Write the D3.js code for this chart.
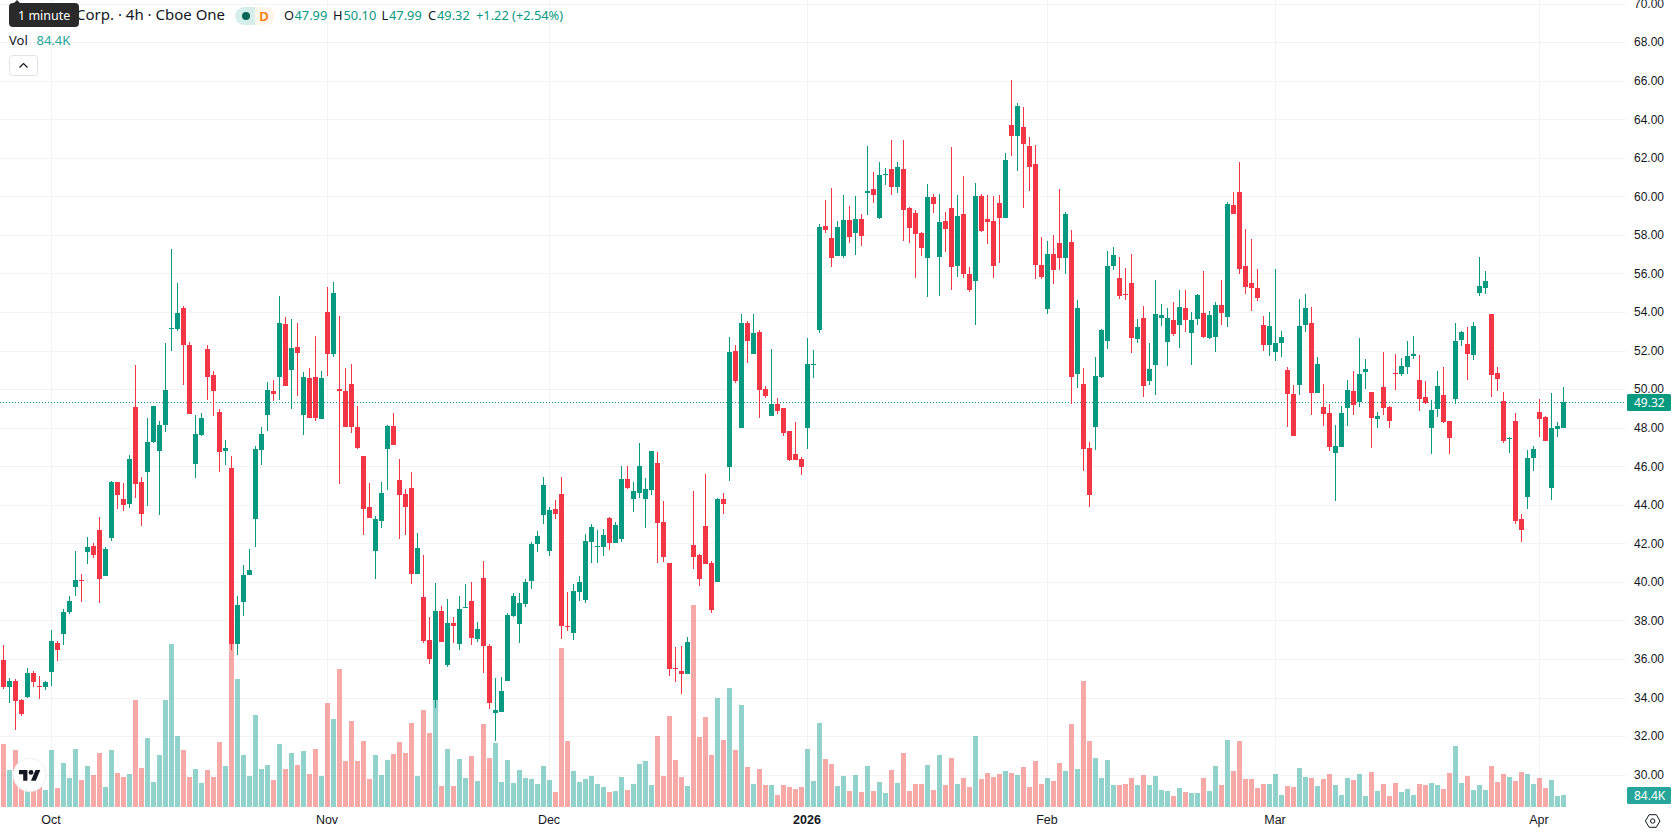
<!DOCTYPE html>
<html>
<head>
<meta charset="utf-8">
<title>Candlestick chart</title>
<script src="https://cdn.jsdelivr.net/npm/d3@7/dist/d3.min.js"></script>
<style>
html,body{margin:0;padding:0;background:#fff;overflow:hidden}
svg{display:block}
text{font-family:"Noto Sans",Roboto,sans-serif;fill:#131722}
</style>
</head>
<body>
<div id="chart"></div>
<script>
// Session series, oldest first
const opens = [35.97,34.52,34.88,33.85,34.05,35.25,34.61,34.52,35.30,36.85,37.32,38.41,39.71,40.12,41.57,41.88,42.71,40.28,42.30,45.20,
44.32,44.05,49.08,45.20,45.71,47.27,46.80,48.15,53.13,53.13,54.22,52.30,46.13,47.63,52.09,50.74,48.82,46.80,45.92,36.75,
38.98,40.33,43.28,46.85,48.67,49.91,50.64,53.39,51.00,52.19,48.67,50.59,50.64,48.46,54.01,51.83,50.02,49.91,50.28,48.05,
46.54,43.90,41.62,43.17,46.91,48.10,45.30,44.57,44.88,40.43,39.22,36.99,33.87,38.49,35.69,37.87,36.78,38.65,39.01,37.04,
40.20,36.67,33.19,33.25,34.86,38.23,37.82,38.85,40.04,41.96,43.47,41.60,43.78,44.56,37.71,37.35,39.47,39.06,42.07,41.81,
41.81,43.31,42.02,42.22,45.33,44.30,44.61,44.30,44.76,46.16,43.10,40.98,35.53,35.38,35.22,41.91,41.39,42.90,40.98,39.99,
44.30,45.95,51.97,47.97,53.42,51.81,52.95,49.99,48.60,49.22,49.01,47.82,46.63,46.37,47.97,51.24,53.05,58.45,57.82,56.89,
56.89,58.76,58.08,58.81,60.16,60.37,58.86,61.09,61.40,60.47,61.40,59.38,59.12,58.08,56.79,59.95,56.84,58.71,59.38,56.37,
59.07,55.96,55.60,60.00,58.81,58.71,59.64,58.86,63.68,63.11,63.58,62.60,61.66,56.43,54.14,57.00,57.57,56.79,57.62,50.77,
50.26,46.94,48.03,50.62,52.48,56.37,55.77,54.94,55.51,52.60,53.69,50.43,51.25,53.69,52.45,53.59,53.33,54.21,52.91,53.64,
53.95,52.65,52.71,54.37,53.74,59.55,60.22,56.39,55.51,55.25,53.33,52.29,51.93,52.40,50.99,49.75,50.22,53.33,53.43,49.80,
49.08,48.77,46.69,47.00,49.03,49.91,49.34,50.89,49.85,48.45,50.11,49.08,50.82,50.78,51.14,51.71,50.47,49.59,47.98,48.97,
49.69,48.34,49.48,52.54,52.34,51.77,54.98,55.24,53.89,50.83,49.38,47.43,48.34,43.26,44.40,46.43,48.81,48.55,44.87,47.93,
47.99];
const highs = [36.70,34.99,34.94,33.90,35.51,35.40,35.14,34.88,37.48,36.91,38.60,39.29,41.62,40.43,42.35,41.99,43.34,41.83,45.25,45.20,
45.15,46.60,51.26,45.45,48.51,49.14,48.36,52.40,57.28,55.51,54.32,52.45,48.67,48.77,52.30,50.95,48.98,47.37,46.54,39.24,
40.90,41.73,47.06,48.05,50.38,50.48,54.84,53.75,53.65,53.44,50.90,51.11,52.77,50.95,55.31,55.57,53.80,51.11,51.31,49.14,
46.54,45.14,43.43,45.20,48.15,48.77,46.39,44.83,45.71,42.55,41.39,38.18,39.94,38.75,39.11,38.18,39.27,39.89,39.99,37.92,
41.08,36.78,35.02,35.07,38.39,39.42,39.42,40.15,42.07,42.64,45.44,43.88,44.24,45.44,39.47,39.89,40.30,42.48,43.00,42.69,
42.74,43.36,43.10,46.01,46.01,45.18,47.20,45.39,46.79,46.73,44.19,40.98,36.62,36.67,37.14,44.71,41.44,45.59,41.08,44.35,
44.61,52.69,52.28,53.88,53.52,53.88,53.05,50.15,52.07,49.53,49.01,47.82,48.28,46.47,52.64,52.02,58.55,59.80,60.42,58.71,
60.05,59.48,60.00,59.07,62.60,61.25,61.77,61.45,62.91,61.77,62.91,59.43,59.28,58.14,60.62,60.11,60.11,59.17,62.56,60.05,
61.04,56.32,60.68,60.11,60.05,60.00,60.05,62.23,66.02,64.82,64.62,63.06,62.65,57.88,57.67,57.98,60.37,59.17,58.24,54.61,
51.09,47.25,51.65,53.11,57.15,57.36,56.85,56.28,57.01,53.64,54.31,52.40,55.66,54.42,54.21,54.52,55.14,55.14,54.00,54.94,
56.13,54.05,54.52,55.66,59.71,60.22,61.78,58.31,57.79,56.23,53.80,54.00,56.23,53.02,51.15,50.22,54.68,54.94,54.26,51.67,
50.27,49.23,48.14,49.13,50.48,50.94,52.65,51.57,49.85,48.82,51.93,49.13,51.83,51.61,52.49,52.75,51.77,50.42,49.43,50.94,
51.14,48.34,53.42,53.01,53.22,53.48,56.85,56.12,53.89,51.14,49.85,47.51,48.76,43.52,46.84,47.05,49.48,48.60,49.80,48.29,
50.10];
const lows = [34.42,33.71,32.29,33.02,33.95,34.52,33.90,34.37,34.62,35.87,36.70,38.31,39.29,38.93,40.95,41.26,38.88,40.28,42.14,43.80,
43.65,43.85,44.37,42.91,43.95,47.22,43.48,47.79,51.99,53.02,50.22,48.72,45.40,47.58,49.45,48.62,45.71,46.08,36.49,36.23,
38.25,40.33,41.83,46.08,47.84,49.40,49.45,50.17,48.98,49.65,47.63,48.51,48.36,48.46,50.69,51.68,45.09,48.05,47.74,46.91,
42.45,43.33,40.17,42.81,44.78,47.11,42.24,42.45,39.91,40.43,36.83,35.74,33.46,36.88,35.59,36.83,36.47,38.65,36.73,36.88,
35.27,33.41,31.73,33.25,34.86,38.18,36.83,38.70,39.63,41.55,43.00,41.34,43.26,37.04,37.45,36.99,39.01,38.90,40.98,40.98,
41.34,41.65,42.02,42.07,44.82,43.62,44.35,42.79,44.50,40.98,41.03,35.12,34.81,34.19,35.22,40.67,39.79,40.93,38.39,39.99,
43.52,45.23,50.31,47.97,51.34,51.81,48.49,49.53,48.60,48.70,47.56,46.26,46.31,45.54,46.88,50.57,52.90,58.08,56.32,56.89,
56.79,57.57,56.94,57.41,59.02,59.64,58.81,60.57,60.05,60.16,57.67,57.57,55.75,56.89,54.77,59.12,54.82,57.10,55.13,55.80,
55.75,55.03,53.31,58.14,57.51,55.75,56.53,58.86,62.08,61.30,59.38,60.26,55.70,55.70,53.88,55.44,56.17,55.96,49.22,50.05,
45.75,43.88,46.84,50.57,52.07,56.17,54.68,54.63,51.88,52.40,49.60,50.22,49.70,53.28,51.20,52.76,52.14,52.97,51.25,53.33,
52.65,52.60,51.93,53.33,53.22,59.08,55.97,54.94,54.05,54.57,51.98,51.72,51.46,51.67,48.04,47.57,49.70,52.97,48.66,49.80,
48.09,46.80,44.20,47.00,48.09,48.66,49.08,50.01,46.97,47.99,48.66,47.99,49.96,50.70,50.78,51.56,48.86,49.22,46.63,48.55,
48.24,46.63,49.22,52.23,50.47,51.51,54.82,54.93,49.59,49.90,47.20,46.68,43.00,42.07,43.78,45.75,47.51,47.31,44.25,47.51,
47.99];
const closes = [34.57,34.88,33.80,33.12,35.25,34.78,34.57,34.78,36.91,36.49,38.41,39.03,40.12,40.09,41.83,41.37,40.17,41.68,45.20,44.53,
44.01,46.39,45.09,43.54,47.27,49.14,48.15,49.97,53.18,53.96,52.30,48.72,47.68,48.51,50.64,49.91,46.75,46.96,36.75,38.82,
40.33,40.64,46.91,47.68,49.97,49.76,53.44,50.17,52.14,51.88,50.64,48.51,48.51,50.59,51.83,54.99,49.91,48.05,48.05,46.96,
43.80,43.33,43.28,44.62,48.10,47.11,44.52,43.90,40.43,41.77,36.93,36.00,38.49,36.88,37.87,37.71,38.59,38.70,37.09,37.56,
36.67,33.72,33.35,34.34,38.28,39.27,38.90,39.99,41.96,42.38,45.02,43.73,43.52,37.71,37.66,39.53,39.99,42.12,42.84,41.86,
42.43,42.02,42.95,45.33,44.87,44.71,46.01,44.82,46.79,43.05,41.29,35.48,35.48,35.22,36.88,41.29,40.15,40.93,38.54,44.30,
44.04,51.91,50.41,53.42,52.48,52.90,49.94,49.63,49.22,48.86,47.71,46.31,46.31,45.95,51.29,51.29,58.40,58.24,56.79,58.40,
58.76,57.88,58.81,57.93,60.26,60.05,61.09,61.14,60.47,61.51,59.28,58.34,58.03,57.31,59.95,59.59,58.65,58.29,56.32,58.97,
55.96,55.13,60.00,58.19,58.65,56.37,58.86,61.87,63.11,64.67,62.70,61.51,56.43,55.80,57.00,56.17,56.79,59.07,50.62,54.19,
46.89,44.50,50.67,53.05,56.37,56.94,54.83,54.88,52.65,53.22,50.17,51.05,53.90,53.85,53.69,52.86,54.26,53.59,53.59,54.88,
52.71,53.85,54.37,53.95,59.60,59.08,56.23,55.30,55.25,54.73,52.29,53.28,52.40,52.71,49.75,47.57,53.28,54.21,49.80,51.31,
48.71,47.00,47.05,48.77,49.96,49.18,50.79,51.05,48.51,48.61,49.03,48.35,50.79,51.20,51.71,51.82,49.48,49.28,48.91,50.16,
48.29,47.46,52.49,52.96,51.82,53.27,55.34,55.60,50.73,50.52,47.31,47.48,43.16,42.69,46.43,46.89,48.45,47.31,47.98,48.08,
49.32];
// Traded volume per session, in thousands
const volumes = [453,265,410,241,217,169,145,121,410,135,316,207,417,193,294,229,388,142,410,243,
214,236,771,280,496,178,374,771,1176,511,410,214,272,171,265,214,468,294,1181,923,
374,222,663,272,301,193,453,272,388,301,402,236,417,222,750,634,995,330,619,330,
475,200,374,229,337,381,468,388,605,222,701,535,783,152,419,152,347,210,369,188,
600,354,463,181,340,174,268,210,202,166,296,195,108,1150,477,260,181,202,224,166,
145,108,116,217,123,166,311,333,159,513,224,658,340,217,152,1460,506,651,376,788,
484,860,412,737,289,166,275,159,159,87,159,145,130,145,419,188,607,347,311,152,
224,116,231,108,296,116,181,101,268,174,390,116,166,166,304,123,376,159,354,166,
210,145,513,202,246,217,239,260,246,231,289,145,333,166,210,188,316,258,598,272,
909,475,352,207,337,157,157,164,207,157,229,157,222,121,113,77,135,106,99,99,
207,113,294,157,482,258,475,200,200,135,164,164,236,84,149,142,280,214,207,149,
200,236,157,84,207,193,236,77,251,113,164,77,171,106,128,84,164,157,171,157,
128,243,439,171,222,121,157,121,294,178,236,214,186,251,236,164,207,135,193,77,
84.4];
const priceTicks = [30,32,34,36,38,40,42,44,46,48,50,52,54,56,58,60,62,64,66,68,70];
const monthIndices = [8,54,91,134,174,212,256];
const monthLabels = ["Oct","Nov","Dec","2026","Feb","Mar","Apr"];
const lastPrice = 49.32;
const lastVolume = 84.4;

const WIDTH = 1678, HEIGHT = 835, PANE_RIGHT = 1625, PANE_BOTTOM = 807;
const UP = "#089981", DOWN = "#F23645", VOL_UP = "#26a69a", VOL_DOWN = "#ef5350";
const GRID = "#f2f3f5", INK = "#131722";
const BODY = 5;

const x = d3.scaleLinear().domain([0, 260]).range([3.5, 1563.5]);
const y = d3.scaleLinear().domain([30, 70]).range([774.6, 3.6]);
const v = d3.scaleLinear().domain([0, 1460]).range([PANE_BOTTOM, PANE_BOTTOM - 202]);

const rows = d3.range(opens.length).map(i => ({
  i, open: opens[i], high: highs[i], low: lows[i], close: closes[i], volume: volumes[i],
  up: closes[i] >= opens[i]
}));

const svg = d3.select("#chart").append("svg").attr("width", WIDTH).attr("height", HEIGHT);

// Grid
const grid = svg.append("g").attr("shape-rendering", "crispEdges").attr("stroke", GRID);
grid.selectAll("line.h").data(priceTicks).join("line").attr("class", "h")
  .attr("x1", 0).attr("x2", PANE_RIGHT)
  .attr("y1", d => Math.round(y(d)) + .5).attr("y2", d => Math.round(y(d)) + .5);
grid.selectAll("line.v").data(monthIndices).join("line").attr("class", "v")
  .attr("y1", 0).attr("y2", PANE_BOTTOM)
  .attr("x1", d => Math.floor(x(d)) + .5).attr("x2", d => Math.floor(x(d)) + .5);

// Volume histogram sits behind the candles
svg.append("g").attr("shape-rendering", "crispEdges").selectAll("rect").data(rows).join("rect")
  .attr("x", d => x(d.i) - BODY / 2)
  .attr("width", BODY)
  .attr("y", d => v(d.volume))
  .attr("height", d => PANE_BOTTOM - v(d.volume))
  .attr("fill", d => d.up ? VOL_UP : VOL_DOWN)
  .attr("fill-opacity", .5);

// Last price line
svg.append("line")
  .attr("x1", 0).attr("x2", PANE_RIGHT)
  .attr("y1", Math.round(y(lastPrice)) + .5).attr("y2", Math.round(y(lastPrice)) + .5)
  .attr("stroke", UP).attr("stroke-width", 1).attr("stroke-dasharray", "1 2");

// Candles
const candle = svg.append("g").attr("shape-rendering", "crispEdges").selectAll("g").data(rows).join("g")
  .attr("fill", d => d.up ? UP : DOWN);
candle.append("rect")
  .attr("x", d => x(d.i) - .5).attr("width", 1)
  .attr("y", d => Math.round(y(d.high)))
  .attr("height", d => Math.max(1, Math.round(y(d.low)) - Math.round(y(d.high))));
candle.append("rect")
  .attr("x", d => x(d.i) - BODY / 2).attr("width", BODY)
  .attr("y", d => Math.round(y(Math.max(d.open, d.close))))
  .attr("height", d => Math.max(1, Math.round(y(Math.min(d.open, d.close))) - Math.round(y(Math.max(d.open, d.close)))));

// Axes
const priceAxis = svg.append("g").attr("transform", "translate(1625,0)")
  .call(d3.axisRight(y).tickValues(priceTicks).tickFormat(d3.format(".2f")).tickSize(0).tickPadding(9));
priceAxis.select(".domain").remove();
priceAxis.selectAll("text").attr("font-size", 12).style("font-family", "inherit").attr("fill", INK);

const timeAxis = svg.append("g").attr("transform", "translate(-0.5,807)")
  .call(d3.axisBottom(x).offset(0).tickValues(monthIndices).tickFormat((d, i) => monthLabels[i]).tickSize(0).tickPadding(8));
timeAxis.select(".domain").remove();
timeAxis.selectAll("text").attr("font-size", 12.5).style("font-family", "inherit").attr("fill", INK)
  .attr("font-weight", (d, i) => monthLabels[i] === "2026" ? 700 : 400);

// Value badges on the price axis
function badge(cy, fill, label) {
  svg.append("rect").attr("x", 1627).attr("y", cy - 8.5).attr("width", 44).attr("height", 17)
    .attr("rx", 1.5).attr("fill", fill);
  svg.append("text").attr("x", 1634).attr("y", cy).attr("dy", ".35em")
    .attr("font-size", 12).style("fill", "#fff").text(label);
}
badge(y(lastPrice) + .3, UP, lastPrice.toFixed(2));
badge(795.5, VOL_UP, lastVolume + "K");

// Settings glyph in the axis corner
const gear = svg.append("g").attr("transform", "translate(1652.7,821)").attr("fill", "none").attr("stroke", INK);
gear.append("path").attr("d", "M-7.3 0L-3.6-6.3H3.6L7.3 0L3.6 6.3H-3.6Z");
gear.append("circle").attr("r", 2.2);

// Header: title, status chips and OHLC readout
const header = svg.append("g").attr("font-size", 13);
header.append("text").attr("x", 76).attr("y", 15).attr("dy", ".35em").attr("font-size", 15).text("Corp. · 4h · Cboe One");
header.append("path").attr("d", "M255 7H244a9 9 0 0 0 0 18H255Z").attr("fill", "#d6eeea");
header.append("path").attr("d", "M255 7H265.5a9 9 0 0 1 0 18H255Z").attr("fill", "#fff5eb");
header.append("circle").attr("cx", 246).attr("cy", 16).attr("r", 4).attr("fill", "#056656");
header.append("text").attr("x", 264).attr("y", 16).attr("dy", ".35em").attr("text-anchor", "middle")
  .attr("font-weight", 600).style("fill", "#f57c00").text("D");

const readout = [
  ["O", 284, INK], ["47.99", 294.5, UP], ["H", 333, INK], ["50.10", 343.5, UP],
  ["L", 381.5, INK], ["47.99", 389, UP], ["C", 428, INK], ["49.32", 437, UP], ["+1.22 (+2.54%)", 476, UP]
];
header.selectAll("text.r").data(readout).join("text").attr("class", "r")
  .attr("x", d => d[1]).attr("y", 16).attr("dy", ".35em").attr("font-size", 12.8)
  .style("fill", d => d[2]).text(d => d[0]);

svg.append("text").attr("x", 9).attr("y", 40.5).attr("dy", ".35em").attr("font-size", 13).text("Vol");
svg.append("text").attr("x", 36.5).attr("y", 40.5).attr("dy", ".35em").attr("font-size", 13)
  .style("fill", VOL_UP).text(lastVolume + "K");

// Collapse button
svg.append("rect").attr("x", 9.5).attr("y", 55.5).attr("width", 28).attr("height", 20).attr("rx", 3)
  .attr("fill", "#fff").attr("stroke", "#e0e3eb");
svg.append("path").attr("d", "M19.5 67.5L23.5 63.5L27.5 67.5").attr("fill", "none").attr("stroke", INK).attr("stroke-width", 1.2);

// Tooltip above the title
svg.append("path").attr("d", "M13 4L17 0L21 4Z").attr("fill", "#2a2a2a");
svg.append("rect").attr("x", 9).attr("y", 3).attr("width", 70).attr("height", 24).attr("rx", 4).attr("fill", "#2a2a2a");
svg.append("text").attr("x", 18).attr("y", 15.5).attr("dy", ".35em").attr("font-size", 12.5).style("fill", "#fff").text("1 minute");

// Watermark badge
const mark = svg.append("g");
mark.append("circle").attr("cx", 29.7).attr("cy", 775).attr("r", 16.5).attr("fill", "#fff").attr("stroke", "#eceef1");
mark.append("path").attr("transform", "translate(19,767.6) scale(.6)")
  .attr("fill", INK).attr("d", "M14 22H7V11H0V4h14v18zM28 22h-8l7.5-18h8L28 22z");
mark.append("circle").attr("cx", 31).attr("cy", 772.4).attr("r", 2.4).attr("fill", INK);
</script>
</body>
</html>
